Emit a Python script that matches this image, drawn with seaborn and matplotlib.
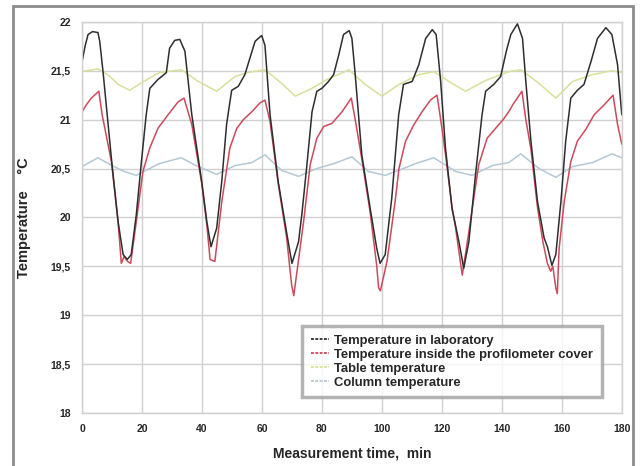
import matplotlib
matplotlib.use('Agg')
import matplotlib.pyplot as plt
from matplotlib.lines import Line2D
from matplotlib.patches import Rectangle
import seaborn as sns
import pandas as pd

# Series (time in min, temperature in °C)
lab_t = [0, 1, 2, 3.5, 5.3, 5.9, 7, 9.8, 12, 13.7, 15.1, 16.4, 18.1, 19.8, 21.4, 22.6, 25.3, 28.1,
         29.2, 30.9, 32.6, 34.3, 36.6, 39.9, 41.6, 43, 44.9, 46.6, 48.2, 49.9, 52.1, 54.3, 56,
         57.7, 59.9, 61, 62.7, 65.4, 68.2, 70, 72.2, 73.3, 75, 76.7, 78.3, 80, 82.2, 83.9, 85.6,
         87.2, 89.1, 90, 91.1, 93.3, 96.1, 98.3, 99.4, 101.1, 103.3, 105.6, 107.2, 110.1, 112.3,
         114.6, 116.8, 118.1, 119.6, 121.2, 123.4, 125.7, 127.3, 129, 131.2, 133.4, 134.6, 137.3,
         139.6, 141.5, 143, 145.2, 146.9, 148, 149.7, 151.9, 154.1, 155.2, 156.7, 158, 159.7,
         161.3, 163, 165.2, 167.4, 169.7, 171.9, 174.7, 176.7, 178.6, 180]
lab_v = [21.59, 21.75, 21.87, 21.9, 21.89, 21.80, 21.49, 20.6, 19.96, 19.62, 19.57, 19.62, 20.03,
         20.57, 21.05, 21.32, 21.41, 21.48, 21.73, 21.81, 21.82, 21.70, 21.05, 20.37, 19.96,
         19.70, 19.89, 20.37, 20.95, 21.30, 21.34, 21.46, 21.63, 21.80, 21.86, 21.76, 21.05,
         20.37, 19.85, 19.53, 19.75, 20.03, 20.54, 21.08, 21.29, 21.32, 21.39, 21.46, 21.66,
         21.87, 21.91, 21.83, 21.46, 20.64, 20.09, 19.68, 19.53, 19.62, 20.20, 21.05, 21.36,
         21.39, 21.56, 21.83, 21.92, 21.87, 21.39, 20.71, 20.09, 19.75, 19.48, 19.75, 20.43,
         21.05, 21.29, 21.36, 21.44, 21.70, 21.87, 21.98, 21.83, 21.39, 20.78, 20.16, 19.79,
         19.70, 19.51, 19.62, 20.16, 20.78, 21.22, 21.30, 21.36, 21.59, 21.83, 21.94, 21.87,
         21.56, 21.05]

cover_t = [0, 1.4, 3.1, 5.6, 6.7, 9.8, 12, 13.1, 14, 15.2, 16.2, 18.1, 20.3, 22.6, 25.3, 28.7, 32,
           34, 36.6, 39.9, 41.6, 42.7, 44.3, 46.6, 49.3, 51.6, 53.8, 56.6, 59.3, 61, 62.7, 65.4,
           68.2, 69.9, 70.6, 71.7, 73.9, 76.1, 78.3, 80.6, 83.3, 86.7, 89.8, 91.1, 93.3, 96.1,
           98.3, 98.9, 99.5, 101.7, 104.4, 105.7, 107.9, 110.7, 113.4, 116.2, 118.4, 119.6,
           121.2, 123.4, 124.6, 126.8, 129, 132.3, 135.1, 137.9, 140.7, 142.7, 143.6, 146.7, 148,
           149.7, 151.9, 153.7, 155.2, 156.3, 157, 158, 158.5, 159.1, 160.8, 163, 165.2, 168,
           170.8, 174.1, 177.1, 178.6, 180]
cover_v = [21.08, 21.15, 21.22, 21.29, 21.05, 20.57, 19.96, 19.53, 19.6, 19.55, 19.53, 19.96,
           20.47, 20.71, 20.91, 21.05, 21.18, 21.22, 20.95, 20.35, 19.93, 19.57, 19.55, 20.16,
           20.71, 20.91, 21.0, 21.08, 21.17, 21.2, 20.98, 20.35, 19.8, 19.31, 19.2, 19.45, 19.96,
           20.54, 20.81, 20.93, 20.96, 21.08, 21.22, 21.0, 20.6, 20.05, 19.5, 19.28, 19.25,
           19.55, 20.16, 20.5, 20.78, 20.95, 21.08, 21.20, 21.25, 21.0, 20.65, 20.1, 19.89,
           19.41, 19.85, 20.54, 20.81, 20.91, 21.01, 21.1, 21.15, 21.29, 21.0, 20.7, 20.1,
           19.75, 19.53, 19.45, 19.5, 19.28, 19.22, 19.68, 20.16, 20.57, 20.78, 20.9, 21.05,
           21.15, 21.25, 20.95, 20.75]

table_t = [0, 5.3, 9, 12, 15.9, 20, 25.7, 33.1, 38.8, 44.9, 51, 55, 61, 66.6, 71.1, 76.7, 81.1, 89,
           94.4, 100, 105.7, 112.3, 117.4, 123.4, 127.9, 134.6, 142.3, 146.4, 152.4, 158, 163.6,
           170.2, 176.8, 180]
table_v = [21.49, 21.52, 21.45, 21.36, 21.30, 21.38, 21.48, 21.51, 21.39, 21.29, 21.44, 21.48,
           21.51, 21.37, 21.24, 21.32, 21.40, 21.51, 21.36, 21.24, 21.36, 21.46, 21.49, 21.37,
           21.29, 21.40, 21.49, 21.51, 21.37, 21.22, 21.39, 21.46, 21.50, 21.48]

column_t = [0, 5.3, 10, 14, 18.1, 25.7, 33.1, 38, 44.9, 51, 56.6, 61, 66.6, 72.2, 78.3, 84, 90,
            95.5, 101.1, 107.2, 111.2, 117.3, 124.6, 130.1, 136.8, 142.3, 146.3, 152.4, 158,
            163.6, 170.2, 176.8, 180]
column_v = [20.52, 20.61, 20.53, 20.47, 20.43, 20.55, 20.61, 20.53, 20.44, 20.53, 20.56, 20.64,
            20.48, 20.42, 20.50, 20.55, 20.62, 20.47, 20.43, 20.50, 20.55, 20.61, 20.47, 20.43,
            20.53, 20.56, 20.65, 20.50, 20.41, 20.52, 20.56, 20.65, 20.61]

series_names = ["Temperature in laboratory",
                "Temperature inside the profilometer cover",
                "Table temperature",
                "Column temperature"]
series_colors = ["#2e2e2e", "#cc4a5c", "#d9e09a", "#b4c8d6"]

y_ticks = [18, 18.5, 19, 19.5, 20, 20.5, 21, 21.5, 22]
y_tick_labels = ["18", "18,5", "19", "19,5", "20", "20,5", "21", "21,5", "22"]
x_ticks = [0, 20, 40, 60, 80, 100, 120, 140, 160, 180]

# Build a long table
frames = []
for name, t, v in zip(series_names, [lab_t, cover_t, table_t, column_t],
                      [lab_v, cover_v, table_v, column_v]):
    frames.append(pd.DataFrame({"time": t, "temp": v, "series": name}))
df = pd.concat(frames, ignore_index=True)

sns.set_style("white")
plt.rcParams['font.family'] = ['Liberation Sans', 'DejaVu Sans']

fig = plt.figure(figsize=(6.41, 4.66), dpi=100)
ax = fig.add_axes([0.128, 0.1137, 0.842, 0.8395])

# draw the background series first so the lab curve sits on top
for name, color in reversed(list(zip(series_names, series_colors))):
    sub = df[df["series"] == name]
    sns.lineplot(data=sub, x="time", y="temp", color=color, linewidth=1.1,
                 ax=ax, legend=False, estimator=None, sort=False)

ax.set_xlim(0, 180)
ax.set_ylim(18, 22)
ax.set_xticks(x_ticks)
ax.set_yticks(y_ticks)
ax.set_yticklabels(y_tick_labels)
ax.tick_params(axis='both', labelsize=7.5, length=4, color='#d0d0d0', pad=4)
for lbl in ax.get_xticklabels() + ax.get_yticklabels():
    lbl.set_fontweight('bold')
ax.grid(True, color='#d0d0d0', linewidth=1)
for sp in ax.spines.values():
    sp.set_color('#d0d0d0')
    sp.set_linewidth(1)

ax.set_xlabel("Measurement time,  min", fontsize=10, fontweight='bold', labelpad=9)
ax.set_ylabel("Temperature    °C", fontsize=10.5, fontweight='bold', labelpad=14)

handles = [Line2D([0], [0], color=c, linestyle=(0, (1.6, 0.8)), linewidth=1.3)
           for c in series_colors]
leg = ax.legend(handles, series_names, loc='lower left', bbox_to_anchor=(0.408, 0.04),
                frameon=True, fancybox=False, prop={'weight': 'bold', 'size': 9.4},
                handlelength=1.4, handletextpad=0.4, labelspacing=0.15,
                borderpad=0.65, borderaxespad=0)
leg.get_frame().set_edgecolor('#a0a0a0')
leg.get_frame().set_linewidth(2.5)

# outer gray frame around the chart (bottom edge runs off the image)
fig.patches.append(Rectangle((13 / 641, -10 / 466), 620 / 641, 470 / 466,
                             transform=fig.transFigure, fill=False,
                             edgecolor='#8c8c8c', linewidth=2))

fig.savefig("out.png", dpi=100)
